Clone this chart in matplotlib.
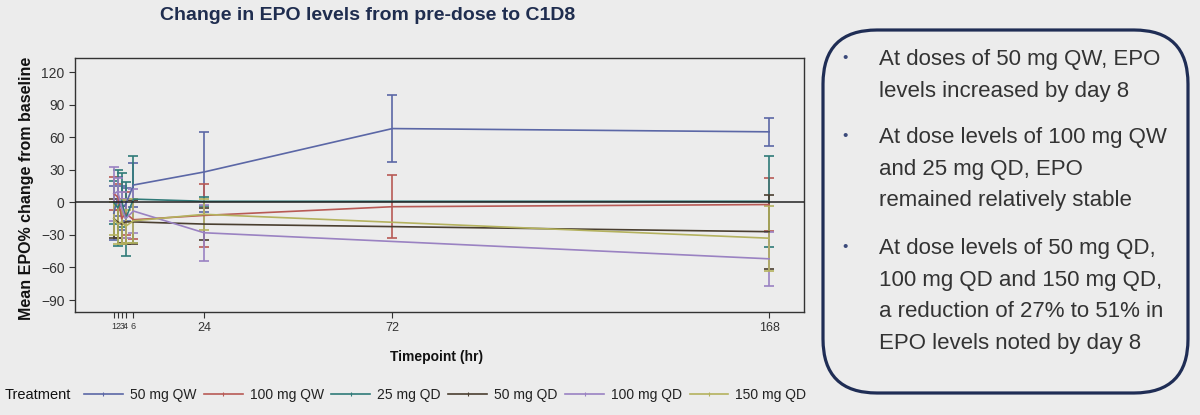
import numpy as np
import matplotlib
matplotlib.use("Agg")
import matplotlib.pyplot as plt
from matplotlib.lines import Line2D
from matplotlib.patches import FancyBboxPatch

plt.rcParams['font.family'] = ['Liberation Sans', 'DejaVu Sans']

# timepoints (hr)
times = [1, 2, 3, 4, 6, 24, 72, 168]
tick_labels = ['1', '2', '3', '4', '6', '24', '72', '168']

treatments = ['50 mg QW', '100 mg QW', '25 mg QD', '50 mg QD', '100 mg QD', '150 mg QD']
colors = ['#5b67a6', '#b85a55', '#2f7a78', '#4a3f30', '#9a82c2', '#b4b25e']

# mean % change from baseline (nan = no sample at that timepoint)
mean_50qw = [-10, 5, -5, -2, 16, 28, 68, 65]
mean_100qw = [8, 5, -15, -10, -16, -12, -4, -2]
mean_25qd = [0, -5, 2, -15, 3, 1, np.nan, 1]
mean_50qd = [-15, -18, -20, -18, -18, -20, np.nan, -27]
mean_100qd = [8, 10, -5, -15, -8, -28, np.nan, -52]
mean_150qd = [-15, -20, -18, -22, -17, -11, np.nan, -33]

# error bar half widths
err_50qw = [25, 18, 20, 15, 20, 37, 31, 13]
err_100qw = [15, 12, 18, 20, 18, 29, 29, 24]
err_25qd = [20, 35, 25, 34, 40, 4, np.nan, 42]
err_50qd = [18, 15, 17, 20, 20, 15, np.nan, 34]
err_100qd = [25, 12, 15, 18, 20, 26, np.nan, 25]
err_150qd = [15, 18, 20, 15, 20, 14, np.nan, 30]

means = [mean_50qw, mean_100qw, mean_25qd, mean_50qd, mean_100qd, mean_150qd]
errs = [err_50qw, err_100qw, err_25qd, err_50qd, err_100qd, err_150qd]

bg = '#ececec'
fig = plt.figure(figsize=(12, 4.15), dpi=100, facecolor=bg)
ax = fig.add_axes([0.0625, 0.2482, 0.6075, 0.612])
ax.set_facecolor(bg)

for m, e, c, lab in zip(means, errs, colors, treatments):
    m = np.array(m, dtype=float)
    e = np.array(e, dtype=float)
    t = np.array(times, dtype=float)
    ok = ~np.isnan(m)
    ax.errorbar(t[ok], m[ok], yerr=e[ok], color=c, lw=1.2, elinewidth=1.2,
                capsize=3.6, capthick=1.2, label=lab)

ax.axhline(0, color='#222222', lw=1.1, zorder=5)

ax.set_xlim(-8.9, 176.9)
ax.set_ylim(-101, 133)
ax.set_xticks(times)
ax.set_xticklabels(tick_labels)
for lbl in ax.get_xticklabels()[:5]:
    lbl.set_fontsize(6.5)
for lbl in ax.get_xticklabels()[5:]:
    lbl.set_fontsize(9)
ax.set_yticks([-90, -60, -30, 0, 30, 60, 90, 120])
ax.tick_params(axis='y', labelsize=10, colors='#333333', length=4)
ax.tick_params(axis='x', colors='#333333', length=4, pad=3)
for s in ax.spines.values():
    s.set_color('#333333')
    s.set_linewidth(1.0)

fig.text(0.0225, 0.545, 'Mean EPO% change from baseline', rotation=90,
         ha='center', va='center', fontsize=11.5, fontweight='bold', color='#111111')
fig.text(0.364, 0.14, 'Timepoint (hr)', ha='center', va='center',
         fontsize=10, fontweight='bold', color='#111111')

fig.text(0.306, 0.962, 'Change in EPO levels from pre-dose to C1D8', ha='center',
         va='center', fontsize=14, fontweight='bold', color='#1f2d4f')

# legend
handles = [Line2D([0], [0], color=c, lw=1.2, marker='|', markersize=3,
                  markeredgewidth=0.8) for c in colors]
fig.text(0.004, 0.048, 'Treatment', ha='left', va='center', fontsize=10.5, color='#111111')
fig.legend(handles, treatments, loc='center left', bbox_to_anchor=(0.064, 0.048),
           ncol=6, frameon=False, fontsize=10, handlelength=2.8, handletextpad=0.5,
           columnspacing=0.55, borderpad=0, numpoints=1, labelcolor='#222222')

# summary box
box = FancyBboxPatch((823 / 1200, 1 - 393 / 415), 365 / 1200, 363 / 415,
                     boxstyle='round,pad=0,rounding_size=0.045',
                     transform=fig.transFigure, facecolor='none',
                     edgecolor='#1f2d55', lw=2.3, mutation_aspect=1200 / 415)
fig.patches.append(box)

bullets = [
    'At doses of 50 mg QW, EPO\nlevels increased by day 8',
    'At dose levels of 100 mg QW\nand 25 mg QD, EPO\nremained relatively stable',
    'At dose levels of 50 mg QD,\n100 mg QD and 150 mg QD,\na reduction of 27% to 51% in\nEPO levels noted by day 8',
]
bullet_y = [58, 136, 247]
for txt, y in zip(bullets, bullet_y):
    fig.text(845 / 1200, 1 - y / 415, '•', ha='center', va='center',
             fontsize=11, color='#3b4a7a')
    fig.text(879 / 1200, 1 - (y - 9) / 415, txt, ha='left', va='top',
             fontsize=16, color='#333333', linespacing=1.67)

fig.savefig('out.png', dpi=100, facecolor=bg)
